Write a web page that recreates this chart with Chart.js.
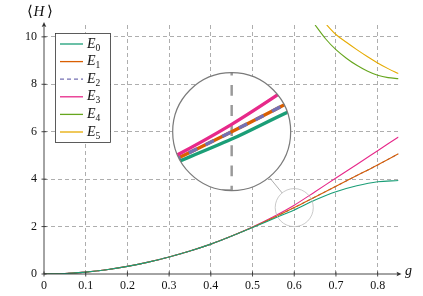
<!DOCTYPE html>
<html>
<head>
<meta charset="utf-8">
<script src="https://cdn.jsdelivr.net/npm/chart.js@4"></script>
<style>
  html, body { margin: 0; padding: 0; background: #fff; }
  canvas { display: block; }
</style>
</head>
<body>
<canvas id="chart" width="423" height="296"></canvas>
<script>
// values
const g = [0, 0.05, 0.1, 0.15, 0.2, 0.25, 0.3, 0.35, 0.4, 0.45, 0.5, 0.55, 0.6, 0.65, 0.7, 0.75, 0.8, 0.85];
const e0 = [0, 0.02, 0.08, 0.18, 0.32, 0.5, 0.72, 0.97, 1.26, 1.6, 1.96, 2.33, 2.7, 3.12, 3.47, 3.72, 3.89, 3.94];
const e1 = [0, 0.02, 0.08, 0.18, 0.32, 0.5, 0.72, 0.97, 1.26, 1.6, 1.97, 2.37, 2.8, 3.25, 3.7, 4.15, 4.6, 5.07];
const e2 = [0, 0.02, 0.08, 0.18, 0.32, 0.5, 0.72, 0.97, 1.26, 1.6, 1.97, 2.37, 2.8, 3.25, 3.7, 4.15, 4.6, 5.07];
const e3 = [0, 0.02, 0.08, 0.18, 0.32, 0.5, 0.72, 0.97, 1.26, 1.6, 1.98, 2.41, 2.9, 3.47, 4.05, 4.62, 5.2, 5.78];

const g4 = [0.65, 0.675, 0.7, 0.725, 0.75, 0.775, 0.8, 0.825, 0.85];
const e4 = [10.5, 9.92, 9.46, 9.1, 8.8, 8.56, 8.38, 8.28, 8.24];
const g5 = [0.678, 0.7, 0.725, 0.75, 0.775, 0.8, 0.825, 0.85];
const e5 = [10.5, 10.1, 9.77, 9.46, 9.17, 8.9, 8.66, 8.45];

const seriesNames = ["E0", "E1", "E2", "E3", "E4", "E5"];
const seriesColors = ["#1b9e77", "#d95f02", "#7570b3", "#e7298a", "#66a61e", "#e6ab02"];

const xTicks = [0, 0.1, 0.2, 0.3, 0.4, 0.5, 0.6, 0.7, 0.8];
const yTicks = [0, 2, 4, 6, 8, 10];

// zoom spot (data coords) and where the magnified circle sits
const zoomAt = [0.6, 2.8];
const insetAt = [0.45, 6.0];
const insetRadius = 59;
const zoomFactor = 3.1;

const SERIF = "'Liberation Serif', 'DejaVu Serif', serif";
const gridColor = "rgba(0,0,0,0.4)";
const axisColor = "#333";

function pts(xs, ys) {
  return xs.map((v, i) => ({ x: v, y: ys[i] }));
}

const seriesData = [pts(g, e0), pts(g, e1), pts(g, e2), pts(g, e3), pts(g4, e4), pts(g5, e5)];

const datasets = seriesData.map((d, i) => ({
  label: seriesNames[i],
  data: d,
  borderColor: seriesColors[i],
  borderWidth: 1.1,
  borderDash: i === 2 ? [3, 3] : [],
  pointRadius: 0,
  cubicInterpolationMode: "monotone",
  fill: false,
}));

const axesPlugin = {
  id: "axes",
  afterDatasetsDraw(chart) {
    const { ctx, chartArea: a, scales: { x, y } } = chart;
    ctx.save();
    ctx.strokeStyle = axisColor;
    ctx.fillStyle = axisColor;
    ctx.lineWidth = 0.9;
    ctx.beginPath();
    ctx.moveTo(a.left, a.bottom);
    ctx.lineTo(a.right + 1, a.bottom);
    ctx.moveTo(a.left, a.bottom);
    ctx.lineTo(a.left, a.top - 1);
    xTicks.forEach((t) => {
      const px = x.getPixelForValue(t);
      ctx.moveTo(px, a.bottom - 2.5);
      ctx.lineTo(px, a.bottom + 2.5);
    });
    yTicks.forEach((t) => {
      const py = y.getPixelForValue(t);
      ctx.moveTo(a.left - 2.5, py);
      ctx.lineTo(a.left + 2.5, py);
    });
    ctx.stroke();
    // arrow heads
    ctx.beginPath();
    ctx.moveTo(a.right + 3, a.bottom);
    ctx.lineTo(a.right - 2, a.bottom - 2.3);
    ctx.lineTo(a.right - 1, a.bottom);
    ctx.lineTo(a.right - 2, a.bottom + 2.3);
    ctx.closePath();
    ctx.moveTo(a.left, a.top - 3);
    ctx.lineTo(a.left - 2.3, a.top + 2);
    ctx.lineTo(a.left, a.top + 1);
    ctx.lineTo(a.left + 2.3, a.top + 2);
    ctx.closePath();
    ctx.fill();

    // axis titles
    ctx.fillStyle = "#111";
    ctx.textBaseline = "middle";
    ctx.textAlign = "left";
    ctx.font = "15px " + SERIF;
    ctx.fillText("\u27E8", 27, 12);
    ctx.font = "italic 15px " + SERIF;
    ctx.fillText("H", 33.5, 12);
    ctx.font = "15px " + SERIF;
    ctx.fillText("\u27E9", 47, 12);
    ctx.font = "italic 14px " + SERIF;
    ctx.fillText("g", 405, 271);
    ctx.restore();
  },
};

const insetPlugin = {
  id: "inset",
  afterDatasetsDraw(chart) {
    const { ctx, chartArea: a, scales: { x, y } } = chart;
    const sx = x.getPixelForValue(zoomAt[0]);
    const sy = y.getPixelForValue(zoomAt[1]);
    const bx = x.getPixelForValue(insetAt[0]);
    const by = y.getPixelForValue(insetAt[1]);
    const R = insetRadius;
    const r = R / zoomFactor;

    ctx.save();
    // small circle + connector
    ctx.strokeStyle = "#bdbdbd";
    ctx.lineWidth = 0.8;
    ctx.beginPath();
    ctx.arc(sx, sy, r, 0, Math.PI * 2);
    ctx.stroke();
    const dx = sx - bx, dy = sy - by;
    const len = Math.hypot(dx, dy);
    ctx.strokeStyle = "#999";
    ctx.beginPath();
    ctx.moveTo(bx + (dx / len) * R, by + (dy / len) * R);
    ctx.lineTo(sx - (dx / len) * r, sy - (dy / len) * r);
    ctx.stroke();

    // big circle
    ctx.beginPath();
    ctx.arc(bx, by, R, 0, Math.PI * 2);
    ctx.fillStyle = "#fff";
    ctx.fill();
    ctx.save();
    ctx.clip();
    ctx.translate(bx, by);
    ctx.scale(zoomFactor, zoomFactor);
    ctx.translate(-sx, -sy);
    ctx.strokeStyle = gridColor;
    ctx.lineWidth = 0.8;
    ctx.setLineDash([3.5, 3]);
    ctx.beginPath();
    xTicks.slice(1).forEach((t) => {
      const px = x.getPixelForValue(t);
      ctx.moveTo(px, a.bottom);
      ctx.lineTo(px, a.top);
    });
    yTicks.slice(1).forEach((t) => {
      const py = y.getPixelForValue(t);
      ctx.moveTo(a.left, py);
      ctx.lineTo(a.right, py);
    });
    ctx.stroke();
    ctx.setLineDash([]);
    [0, 1, 2, 3].forEach((i) => {
      chart.getDatasetMeta(i).dataset.draw(ctx, a);
    });
    ctx.restore();
    ctx.beginPath();
    ctx.arc(bx, by, R, 0, Math.PI * 2);
    ctx.strokeStyle = "#7a7a7a";
    ctx.lineWidth = 1.2;
    ctx.stroke();
    ctx.restore();
  },
};

const legendPlugin = {
  id: "texLegend",
  afterDraw(chart) {
    const { ctx } = chart;
    const left = 55, top = 33, w = 55, h = 109;
    ctx.save();
    ctx.fillStyle = "#fff";
    ctx.fillRect(left, top, w, h);
    ctx.strokeStyle = "#333";
    ctx.lineWidth = 0.8;
    ctx.strokeRect(left + 0.5, top + 0.5, w, h);
    seriesNames.forEach((name, i) => {
      const yy = top + 11 + i * 17.6;
      ctx.strokeStyle = seriesColors[i];
      ctx.lineWidth = 1.3;
      ctx.setLineDash(i === 2 ? [4, 3] : []);
      ctx.beginPath();
      ctx.moveTo(left + 5, yy);
      ctx.lineTo(left + 28, yy);
      ctx.stroke();
      ctx.setLineDash([]);
      ctx.fillStyle = "#111";
      ctx.textBaseline = "middle";
      ctx.textAlign = "left";
      ctx.font = "italic 14px " + SERIF;
      ctx.fillText(name[0], left + 32, yy);
      const wE = ctx.measureText(name[0]).width;
      ctx.font = "9.5px " + SERIF;
      ctx.fillText(name.slice(1), left + 32 + wE, yy + 4);
    });
    ctx.restore();
  },
};

const gridOpts = {
  drawTicks: false,
  color: (c) => (c.tick && c.tick.value === 0 ? "rgba(0,0,0,0)" : gridColor),
  lineWidth: 0.8,
};

new Chart(document.getElementById("chart"), {
  type: "line",
  data: { datasets: datasets },
  options: {
    responsive: false,
    animation: false,
    devicePixelRatio: 1,
    layout: { padding: { left: 0, top: 25, right: 24.5, bottom: 0 } },
    scales: {
      x: {
        type: "linear",
        min: 0,
        max: 0.85,
        afterBuildTicks: (s) => { s.ticks = xTicks.map((v) => ({ value: v })); },
        afterFit: (s) => { s.height = 22; },
        grid: gridOpts,
        border: { display: false, dash: [4, 3] },
        ticks: {
          padding: 5,
          color: "#111",
          font: { family: SERIF, size: 12 },
          callback: (v) => (v === 0 ? "0" : Number(v).toFixed(1)),
        },
      },
      y: {
        type: "linear",
        min: 0,
        max: 10.5,
        afterBuildTicks: (s) => { s.ticks = yTicks.map((v) => ({ value: v })); },
        afterFit: (s) => { s.width = 44; },
        grid: gridOpts,
        border: { display: false, dash: [4, 3] },
        ticks: {
          padding: 7,
          color: "#111",
          font: { family: SERIF, size: 12 },
          callback: (v) => String(v),
        },
      },
    },
    plugins: {
      legend: { display: false },
      tooltip: { enabled: false },
    },
  },
  plugins: [axesPlugin, insetPlugin, legendPlugin],
});
</script>
</body>
</html>
